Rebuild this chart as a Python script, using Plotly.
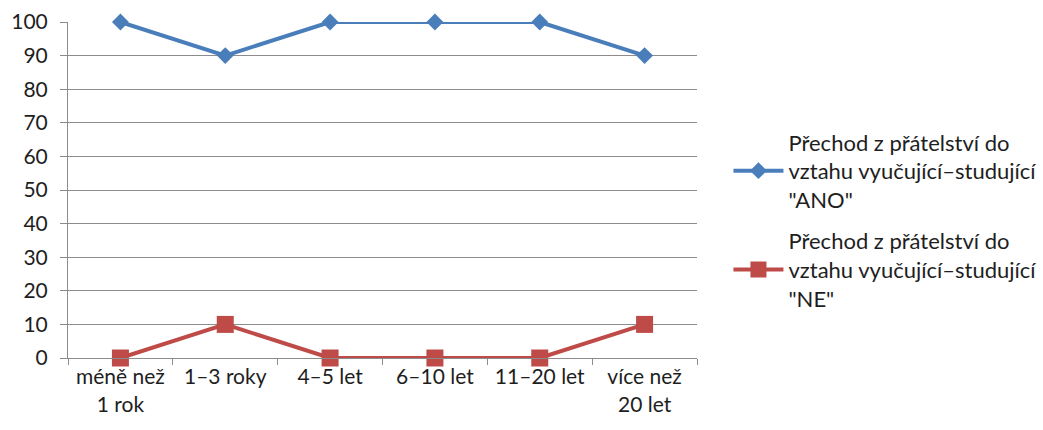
import plotly.graph_objects as go

categories = ["méně než<br>1 rok", "1–3 roky", "4–5 let", "6–10 let", "11–20 let", "více než<br>20 let"]
ano_values = [100, 90, 100, 100, 100, 90]
ne_values = [0, 10, 0, 0, 0, 10]
series_names = [
    "Přechod z přátelství do<br>vztahu vyučující–studující<br>\"ANO\"",
    "Přechod z přátelství do<br>vztahu vyučující–studující<br>\"NE\"",
]
y_ticks = [0, 10, 20, 30, 40, 50, 60, 70, 80, 90, 100]

font_family = "Lato, Open Sans, Noto Sans, sans-serif"
font_size = 21
legend_font_size = 22
text_color = "#1e1e1e"
grid_color = "#8c8c8c"

fig = go.Figure()
fig.add_trace(go.Scatter(
    x=categories, y=ano_values, name=series_names[0], mode="lines+markers",
    legendgroup="ano",
    line=dict(color="#4A7EBB", width=4),
    marker=dict(symbol="diamond", size=13, color="#4A7EBB"),
    cliponaxis=False,
))
fig.add_trace(go.Scatter(
    x=categories, y=ne_values, name=series_names[1], mode="lines+markers",
    legendgroup="ne",
    line=dict(color="#BE4B48", width=4),
    marker=dict(symbol="square", size=17, color="#BE4B48"),
    cliponaxis=False,
))

fig.update_layout(
    width=1043, height=430,
    margin=dict(l=68, r=346, t=22, b=72, autoexpand=False),
    paper_bgcolor="white", plot_bgcolor="white",
    font=dict(family=font_family, size=font_size, color=text_color),
    showlegend=True,
    legend=dict(
        x=1.05, y=0.41, xanchor="left", yanchor="middle",
        font=dict(family=font_family, size=legend_font_size, color=text_color),
        itemwidth=50, tracegroupgap=10, bgcolor="rgba(0,0,0,0)",
    ),
    xaxis=dict(
        type="category", range=[-0.5, 5.5],
        showline=True, linecolor=grid_color, linewidth=1,
        showgrid=False, ticks="outside", tickson="boundaries",
        ticklen=6, tickcolor=grid_color, tickwidth=1,
        tickfont=dict(family=font_family, size=font_size, color=text_color),
        fixedrange=True, automargin=False,
    ),
    yaxis=dict(
        range=[0, 100], tickvals=y_ticks,
        showline=True, linecolor=grid_color, linewidth=1,
        showgrid=True, gridcolor=grid_color, gridwidth=1,
        zeroline=False,
        ticks="outside", ticklen=7, tickcolor=grid_color, tickwidth=1,
        ticklabelstandoff=8,
        tickfont=dict(family=font_family, size=font_size, color=text_color),
        fixedrange=True, automargin=False,
    ),
)

fig.write_html(
    "out.html",
    config={"displayModeBar": False},
    post_script="document.body.style.margin='0px';",
)
